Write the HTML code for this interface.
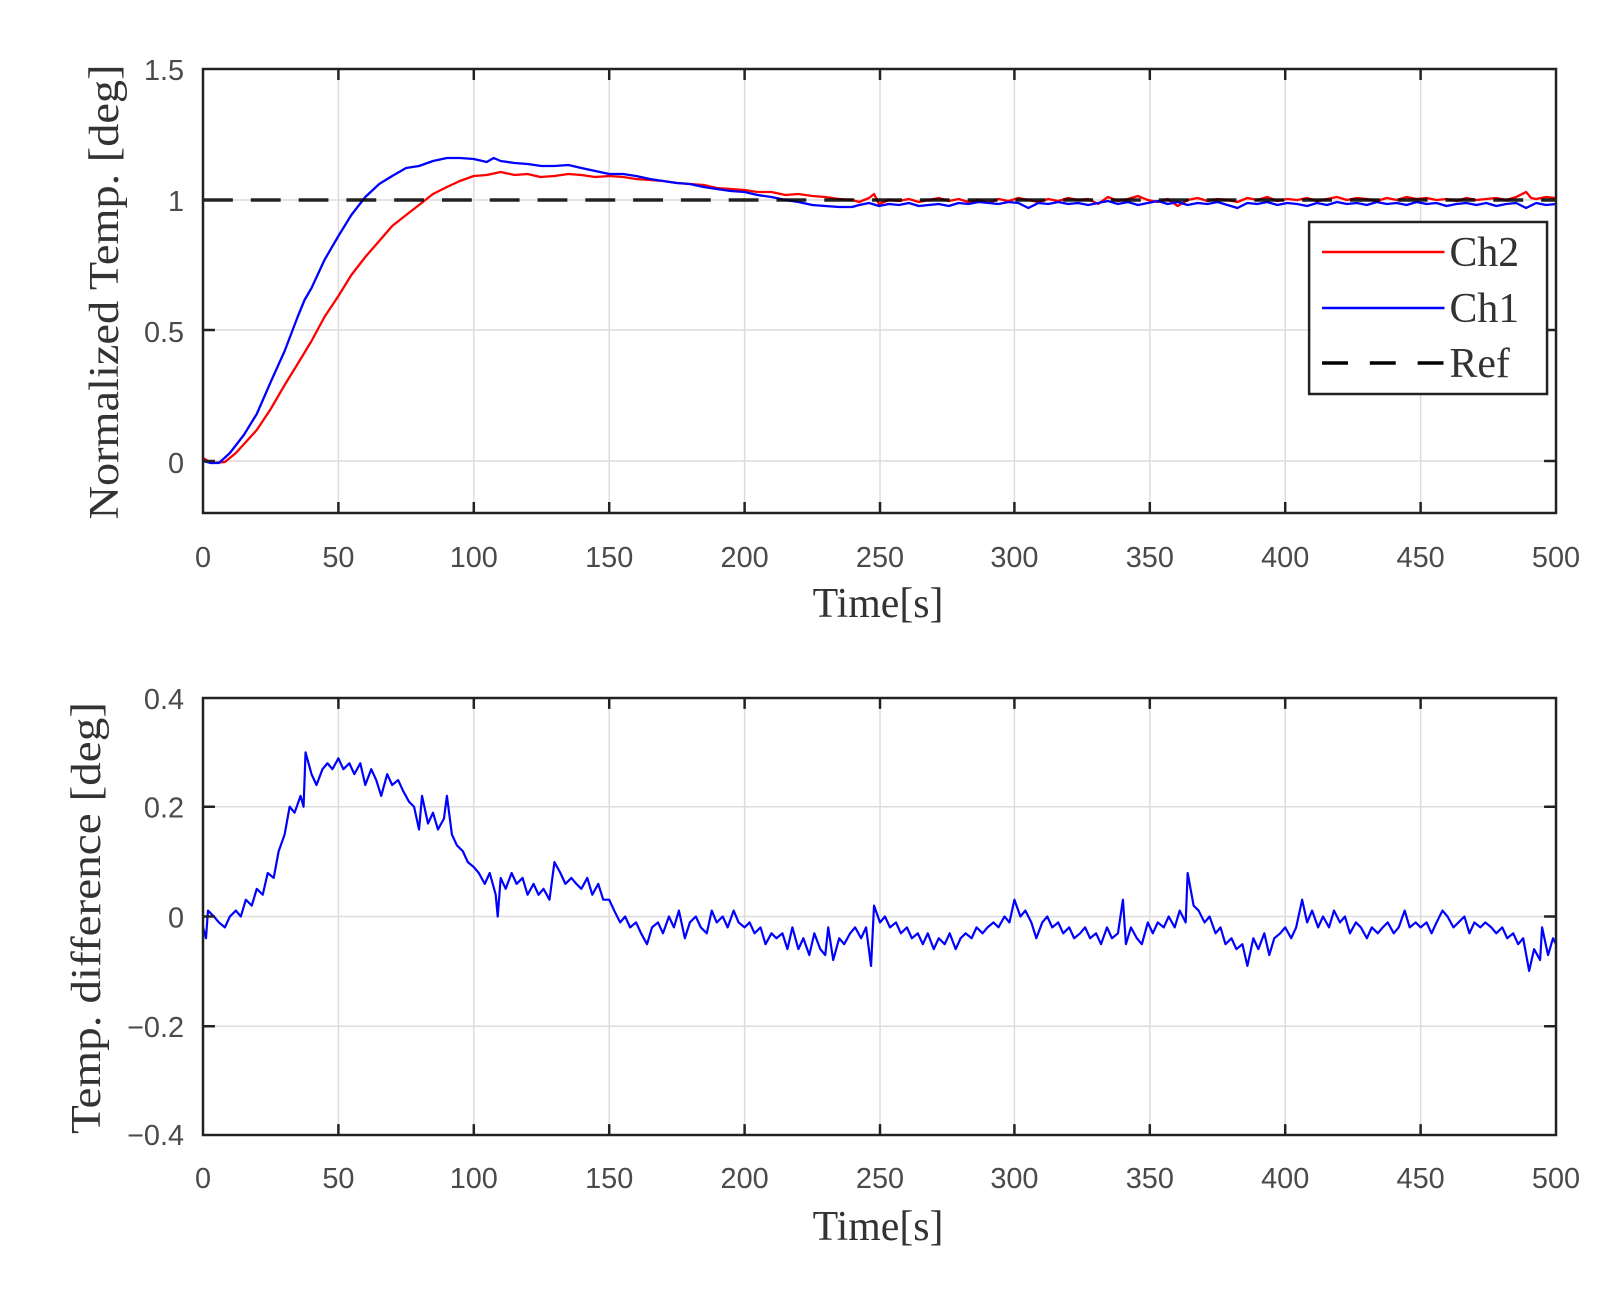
<!DOCTYPE html>
<html><head><meta charset="utf-8"><style>
html,body{margin:0;padding:0;background:#fff;}
svg{display:block}
.tk{font-family:"Liberation Sans",sans-serif;font-size:29px;fill:#4a4a4a}
.lb{font-family:"Liberation Serif",serif;font-size:42px;fill:#333}
</style></head><body>
<svg width="1612" height="1293" viewBox="0 0 1612 1293" xmlns="http://www.w3.org/2000/svg">
<rect width="1612" height="1293" fill="#fff"/>
<g transform="translate(203,0) scale(0.9956,1) translate(-203,0)">
<g stroke="#dcdcdc" stroke-width="1.5">
<line x1="339" y1="69" x2="339" y2="513"/><line x1="475" y1="69" x2="475" y2="513"/><line x1="611" y1="69" x2="611" y2="513"/><line x1="747" y1="69" x2="747" y2="513"/><line x1="883" y1="69" x2="883" y2="513"/><line x1="1018" y1="69" x2="1018" y2="513"/><line x1="1154" y1="69" x2="1154" y2="513"/><line x1="1290" y1="69" x2="1290" y2="513"/><line x1="1426" y1="69" x2="1426" y2="513"/>
<line x1="203" y1="461" x2="1562" y2="461"/><line x1="203" y1="330" x2="1562" y2="330"/><line x1="203" y1="200" x2="1562" y2="200"/>
</g>
<g fill="none" stroke-linejoin="round" stroke-width="2.3">
<polyline stroke="#f00" points="203,458 211,463 225,462 236,453 257,430 271,409 285,385 298,364 312,341 325,317 339,296 352,275 366,257 380,241 393,226 407,215 420,205 434,194 448,187 461,181 475,176 488,175 502,172 516,175 529,174 542,177 556,176 570,174 583,175 597,177 611,176 625,177 638,179 652,180 665,181 679,183 692,184 706,185 719,188 733,189 747,190 760,192 774,192 788,195 801,194 815,196 828,197 842,199 855,200 862,202 872,198 877,194 882,204 892,200 902,201 912,199 922,202 932,200 942,198 952,201 962,199 972,202 982,200 992,203 1002,199 1012,201 1022,198 1032,200 1042,202 1052,199 1062,201 1072,198 1082,200 1092,199 1102,204 1112,197 1122,201 1132,199 1142,196 1152,200 1162,202 1172,199 1182,206 1192,200 1202,198 1212,201 1222,199 1232,200 1242,202 1252,198 1262,200 1272,197 1282,201 1292,199 1302,200 1312,198 1322,201 1332,199 1342,197 1352,200 1362,198 1372,199 1382,201 1392,198 1402,200 1412,197 1422,199 1432,198 1442,200 1452,199 1462,201 1472,198 1482,200 1492,199 1502,198 1512,200 1522,197 1532,192 1537,198 1542,199 1552,197 1562,198"/>
<polyline stroke="#00f" points="203,461 211,463 219,463 230,453 244,435 257,414 271,382 285,351 298,317 305,300 312,288 325,260 339,236 352,215 366,197 380,184 393,176 407,168 420,166 434,161 448,158 461,158 475,159 488,162 495,158 502,161 516,163 529,164 543,166 556,166 570,165 583,168 597,171 611,174 625,174 638,176 652,179 665,181 679,183 692,184 706,187 719,189 733,191 747,192 760,195 774,197 788,200 801,202 815,205 828,206 842,207 855,207 862,205 872,203 882,206 892,204 902,205 912,203 922,206 932,205 942,204 952,206 962,203 972,204 982,202 992,203 1002,204 1012,202 1022,203 1032,208 1042,203 1052,204 1062,202 1072,204 1082,203 1092,205 1102,203 1112,201 1122,204 1132,202 1142,205 1152,203 1162,201 1172,204 1182,202 1192,205 1202,203 1212,204 1222,202 1232,205 1242,208 1252,203 1262,204 1272,202 1282,205 1292,203 1302,204 1312,206 1322,203 1332,205 1342,202 1352,204 1362,203 1372,205 1382,202 1392,204 1402,203 1412,205 1422,202 1432,204 1442,203 1452,206 1462,204 1472,203 1482,205 1492,203 1502,206 1512,204 1522,203 1532,208 1542,203 1552,205 1562,204"/>
</g>
<line x1="203" y1="200" x2="1562" y2="200" stroke="#000" stroke-width="3.5" stroke-dasharray="30,18" stroke-opacity="0.85"/>
<g stroke="#222" stroke-width="2.5" fill="none">
<rect x="203" y="69" width="1359" height="444"/>
<path d="M339,513v-11M475,513v-11M611,513v-11M747,513v-11M883,513v-11M1018,513v-11M1154,513v-11M1290,513v-11M1426,513v-11M339,69v11M475,69v11M611,69v11M747,69v11M883,69v11M1018,69v11M1154,69v11M1290,69v11M1426,69v11M203,461h12M203,330h12M203,200h12M1562,461h-12M1562,330h-12M1562,200h-12"/>
</g>
<g class="tk" text-anchor="middle">
<text x="203" y="567">0</text><text x="339" y="567">50</text><text x="475" y="567">100</text><text x="611" y="567">150</text><text x="747" y="567">200</text><text x="883" y="567">250</text><text x="1018" y="567">300</text><text x="1154" y="567">350</text><text x="1290" y="567">400</text><text x="1426" y="567">450</text><text x="1562" y="567">500</text>
</g>
<g class="tk" text-anchor="end">
<text x="184" y="80">1.5</text><text x="184" y="211">1</text><text x="184" y="342">0.5</text><text x="184" y="473">0</text>
</g>
<text class="lb" x="881" y="617" text-anchor="middle">Time[s]</text>

<g transform="translate(0,698) scale(1,0.9887) translate(0,-698)">
<g stroke="#dcdcdc" stroke-width="1.5">
<line x1="339" y1="698" x2="339" y2="1140"/><line x1="475" y1="698" x2="475" y2="1140"/><line x1="611" y1="698" x2="611" y2="1140"/><line x1="747" y1="698" x2="747" y2="1140"/><line x1="883" y1="698" x2="883" y2="1140"/><line x1="1018" y1="698" x2="1018" y2="1140"/><line x1="1154" y1="698" x2="1154" y2="1140"/><line x1="1290" y1="698" x2="1290" y2="1140"/><line x1="1426" y1="698" x2="1426" y2="1140"/>
<line x1="203" y1="808" x2="1562" y2="808"/><line x1="203" y1="919" x2="1562" y2="919"/><line x1="203" y1="1030" x2="1562" y2="1030"/>
</g>
<polyline fill="none" stroke="#00f" stroke-width="2.2" stroke-linejoin="round" points="203,930 206,941 208,913 214,919 219,925 225,930 230,919 236,913 241,919 246,902 252,908 257,891 263,897 268,875 274,880 279,853 285,836 290,808 295,814 301,797 304,808 306,753 312,775 317,786 323,770 328,764 333,770 339,759 344,770 350,764 355,775 361,764 366,786 372,770 377,781 382,797 388,775 393,786 399,781 404,792 410,803 415,808 420,831 423,797 429,825 434,814 439,831 445,820 448,797 453,836 458,847 464,853 469,864 475,869 480,875 486,886 491,875 497,897 499,919 502,880 507,891 513,875 518,886 524,880 529,897 535,886 540,897 545,891 551,902 556,864 562,875 567,886 573,880 578,886 583,891 589,880 594,897 600,886 605,902 611,902 616,913 622,925 627,919 632,930 638,925 643,936 649,947 654,930 660,925 665,936 671,919 676,930 681,913 687,941 692,925 698,919 703,930 709,936 714,913 719,925 725,919 730,930 736,913 741,925 747,930 752,925 757,936 763,930 768,947 774,936 779,941 785,936 790,952 795,930 801,952 806,941 812,958 817,936 823,952 828,958 831,930 836,963 842,941 847,947 853,936 858,930 864,941 869,930 874,969 877,908 883,925 888,919 893,930 899,925 904,936 910,930 915,941 921,936 926,947 931,936 937,952 942,941 948,947 953,936 959,952 964,941 969,936 975,941 980,930 986,936 991,930 997,925 1002,930 1008,919 1013,925 1018,902 1024,919 1029,913 1035,925 1040,941 1046,925 1051,919 1056,930 1062,925 1067,936 1073,930 1078,941 1084,936 1089,930 1094,941 1100,936 1105,947 1111,930 1116,941 1122,936 1127,902 1130,947 1135,930 1141,941 1146,947 1152,925 1157,936 1162,925 1168,930 1173,919 1179,930 1184,913 1190,925 1192,875 1198,908 1203,913 1209,925 1214,919 1220,936 1225,930 1230,947 1236,941 1241,952 1247,947 1252,969 1258,941 1263,952 1269,936 1274,958 1279,941 1285,936 1290,930 1296,941 1301,930 1307,902 1312,925 1317,913 1323,930 1328,919 1334,930 1339,913 1345,925 1350,919 1355,936 1361,925 1366,930 1372,941 1377,930 1383,936 1388,930 1393,925 1399,936 1404,930 1410,913 1415,930 1421,925 1426,930 1432,925 1437,936 1442,925 1448,913 1453,919 1459,930 1464,925 1470,919 1475,936 1480,925 1486,930 1491,925 1497,930 1502,936 1508,930 1513,941 1519,936 1524,947 1529,941 1535,974 1540,952 1546,963 1548,930 1554,958 1559,941 1562,947"/>
<g stroke="#222" stroke-width="2.5" fill="none">
<rect x="203" y="698" width="1359" height="442"/>
<path d="M339,1140v-11M475,1140v-11M611,1140v-11M747,1140v-11M883,1140v-11M1018,1140v-11M1154,1140v-11M1290,1140v-11M1426,1140v-11M339,698v11M475,698v11M611,698v11M747,698v11M883,698v11M1018,698v11M1154,698v11M1290,698v11M1426,698v11M203,808h12M203,919h12M203,1030h12M1562,808h-12M1562,919h-12M1562,1030h-12"/>
</g>
<g class="tk" text-anchor="end">
<text x="184" y="709">0.4</text><text x="184" y="819">0.2</text><text x="184" y="930">0</text><text x="184" y="1041">−0.2</text><text x="184" y="1150">−0.4</text>
</g>
</g>
<g class="tk" text-anchor="middle">
<text x="203" y="1188">0</text><text x="339" y="1188">50</text><text x="475" y="1188">100</text><text x="611" y="1188">150</text><text x="747" y="1188">200</text><text x="883" y="1188">250</text><text x="1018" y="1188">300</text><text x="1154" y="1188">350</text><text x="1290" y="1188">400</text><text x="1426" y="1188">450</text><text x="1562" y="1188">500</text>
</g>
<text class="lb" x="881" y="1240" text-anchor="middle">Time[s]</text>
<rect x="1314" y="222" width="239" height="172" fill="#fff" stroke="#222" stroke-width="2.5"/>
<line x1="1327" y1="252" x2="1450" y2="252" stroke="#f00" stroke-width="2.5"/>
<line x1="1327" y1="308" x2="1450" y2="308" stroke="#00f" stroke-width="2.5"/>
<line x1="1327" y1="363" x2="1450" y2="363" stroke="#000" stroke-width="3.5" stroke-dasharray="26,22"/>
<g class="lb">
<text x="1455" y="266">Ch2</text><text x="1455" y="322">Ch1</text><text x="1455" y="377">Ref</text>
</g>
</g>
<text class="lb" transform="translate(118,292) rotate(-90)" text-anchor="middle" textLength="455" lengthAdjust="spacingAndGlyphs">Normalized Temp. [deg]</text>
<text class="lb" transform="translate(100,918) rotate(-90)" text-anchor="middle" textLength="432" lengthAdjust="spacingAndGlyphs">Temp. difference [deg]</text>
</svg>
</body></html>
